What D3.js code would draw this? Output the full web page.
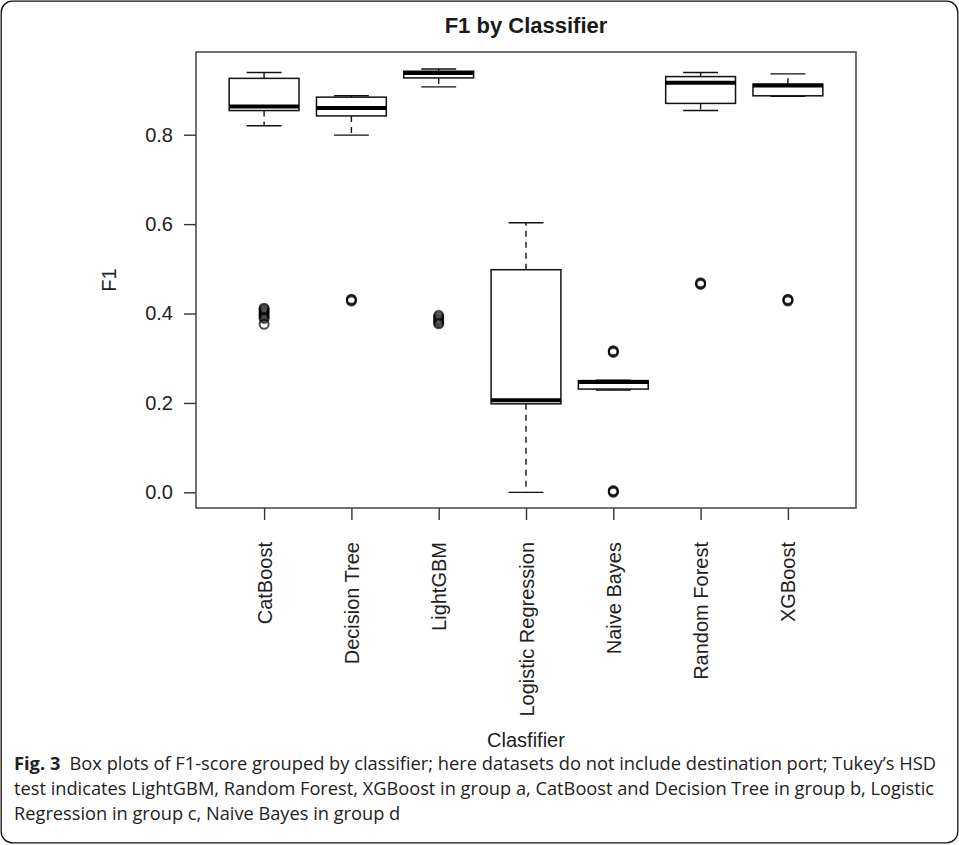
<!DOCTYPE html>
<html>
<head>
<meta charset="utf-8">
<script src="https://cdn.jsdelivr.net/npm/d3@7"></script>
<style>
  html, body { margin: 0; padding: 0; background: #fff; }
  svg { display: block; }
</style>
</head>
<body>
<svg id="fig" width="959" height="845"></svg>
<script>
// Classifiers along the x axis
const classifiers = ["CatBoost", "Decision Tree", "LightGBM", "Logistic Regression",
                     "Naive Bayes", "Random Forest", "XGBoost"];

// Five-number summaries of F1 per classifier
const whiskerLow  = [0.820, 0.799, 0.907, 0.000, 0.229, 0.854, 0.886];
const q1          = [0.854, 0.842, 0.927, 0.198, 0.231, 0.870, 0.887];
const median      = [0.863, 0.860, 0.938, 0.206, 0.247, 0.916, 0.910];
const q3          = [0.926, 0.884, 0.942, 0.498, 0.250, 0.930, 0.913];
const whiskerHigh = [0.939, 0.887, 0.947, 0.603, 0.251, 0.939, 0.936];

// Points beyond the whiskers
const outliers = [
  [0.412, 0.409, 0.405, 0.401, 0.397, 0.393, 0.389, 0.376],
  [0.432, 0.430, 0.428],
  [0.396, 0.392, 0.388, 0.384, 0.380, 0.377],
  [],
  [0.317, 0.315, 0.313, 0.004, 0.002, 0.000],
  [0.469, 0.467, 0.465],
  [0.432, 0.430, 0.428]
];

const yTicks = [0.0, 0.2, 0.4, 0.6, 0.8];
const yDomain = [-0.035, 0.985];

const chartTitle = "F1 by Classifier";
const xTitle = "Clasfifier";
const yTitle = "F1";

const captionLines = [
  { bold: "Fig. 3", text: "\u2002Box plots of F1-score grouped by classifier; here datasets do not include destination port; Tukey\u2019s HSD", width: 922 },
  { bold: "", text: "test indicates LightGBM, Random Forest, XGBoost in group a, CatBoost and Decision Tree in group b, Logistic", width: 920 },
  { bold: "", text: "Regression in group c, Naive Bayes in group d", width: null }
];

// ---- layout ----
const plot = { left: 196, right: 856, top: 52, bottom: 508 };
const svg = d3.select("#fig");
const axisFont = "'Liberation Sans', Arial, Helvetica, sans-serif";
const axisSize = 20;

// outer rounded frame of the figure
svg.append("rect")
  .attr("x", 1.2).attr("y", 1.2)
  .attr("width", 956.6).attr("height", 841.6)
  .attr("rx", 11).attr("ry", 11)
  .attr("fill", "none").attr("stroke", "#111").attr("stroke-width", 1.3);

// scales: groups sit at 1..n, with R-style 4% padding around 0.5..n+0.5
const n = classifiers.length;
const xPad = 0.04 * n;
const x = d3.scaleLinear()
  .domain([0.5 - xPad, n + 0.5 + xPad])
  .range([plot.left, plot.right]);
const y = d3.scaleLinear()
  .domain(yDomain)
  .range([plot.bottom, plot.top]);

const unit = x(2) - x(1);
const boxW = 0.8 * unit;
const stapleW = boxW / 2;

// title
svg.append("text")
  .attr("x", (plot.left + plot.right) / 2).attr("y", 33)
  .attr("text-anchor", "middle")
  .attr("font-family", axisFont).attr("font-weight", "bold")
  .attr("font-size", 22).attr("fill", "#1a1a1a")
  .text(chartTitle);

// y axis
const yAxis = svg.append("g")
  .attr("transform", `translate(${plot.left},0)`)
  .call(d3.axisLeft(y).tickValues(yTicks).tickFormat(d3.format(".1f")).tickSize(12).tickPadding(11));
yAxis.select(".domain").remove();
yAxis.selectAll(".tick line").attr("stroke", "#333").attr("stroke-width", 1.4);
yAxis.selectAll(".tick text")
  .attr("font-family", axisFont).attr("font-size", axisSize).attr("fill", "#222");

// x axis with vertical category labels
const xAxis = svg.append("g")
  .attr("transform", `translate(0,${plot.bottom})`)
  .call(d3.axisBottom(x).tickValues(d3.range(1, n + 1)).tickFormat(i => classifiers[i - 1]).tickSize(12));
xAxis.select(".domain").remove();
xAxis.selectAll(".tick line").attr("stroke", "#333").attr("stroke-width", 1.4);
xAxis.selectAll(".tick text")
  .attr("font-family", axisFont).attr("font-size", axisSize).attr("fill", "#222")
  .attr("transform", "rotate(-90)")
  .attr("text-anchor", "end")
  .attr("x", -34).attr("y", 0).attr("dy", "0.35em");

// axis titles
svg.append("text")
  .attr("transform", `translate(116,${(plot.top + plot.bottom) / 2}) rotate(-90)`)
  .attr("text-anchor", "middle")
  .attr("font-family", axisFont).attr("font-size", axisSize).attr("fill", "#222")
  .text(yTitle);
svg.append("text")
  .attr("x", (plot.left + plot.right) / 2).attr("y", 747)
  .attr("text-anchor", "middle")
  .attr("font-family", axisFont).attr("font-size", axisSize).attr("fill", "#222")
  .text(xTitle);

// plot frame
svg.append("rect")
  .attr("x", plot.left).attr("y", plot.top)
  .attr("width", plot.right - plot.left).attr("height", plot.bottom - plot.top)
  .attr("fill", "none").attr("stroke", "#444").attr("stroke-width", 1.5);

// boxes
const groups = svg.append("g").selectAll("g")
  .data(classifiers.map((name, i) => ({
    name, pos: i + 1,
    lo: whiskerLow[i], q1: q1[i], med: median[i], q3: q3[i], hi: whiskerHigh[i],
    out: outliers[i]
  })))
  .join("g");

// dashed whiskers
groups.append("line")
  .attr("x1", d => x(d.pos)).attr("x2", d => x(d.pos))
  .attr("y1", d => y(d.q3)).attr("y2", d => y(d.hi))
  .attr("stroke", "#111").attr("stroke-width", 1.4).attr("stroke-dasharray", "6,5");
groups.append("line")
  .attr("x1", d => x(d.pos)).attr("x2", d => x(d.pos))
  .attr("y1", d => y(d.q1)).attr("y2", d => y(d.lo))
  .attr("stroke", "#111").attr("stroke-width", 1.4).attr("stroke-dasharray", "6,5");

// staples
["lo", "hi"].forEach(k => {
  groups.append("line")
    .attr("x1", d => x(d.pos) - stapleW / 2).attr("x2", d => x(d.pos) + stapleW / 2)
    .attr("y1", d => y(d[k])).attr("y2", d => y(d[k]))
    .attr("stroke", "#111").attr("stroke-width", 1.4);
});

// box bodies
groups.append("rect")
  .attr("x", d => x(d.pos) - boxW / 2)
  .attr("y", d => y(d.q3))
  .attr("width", boxW)
  .attr("height", d => y(d.q1) - y(d.q3))
  .attr("fill", "#fff").attr("stroke", "#111").attr("stroke-width", 1.5);

// medians
groups.append("line")
  .attr("x1", d => x(d.pos) - boxW / 2).attr("x2", d => x(d.pos) + boxW / 2)
  .attr("y1", d => y(d.med)).attr("y2", d => y(d.med))
  .attr("stroke", "#000").attr("stroke-width", 4);

// outliers as open circles
groups.selectAll("circle")
  .data(d => d.out.map(v => ({ pos: d.pos, v })))
  .join("circle")
  .attr("cx", d => x(d.pos)).attr("cy", d => y(d.v))
  .attr("r", 4.5)
  .attr("fill", "none").attr("stroke", "#000")
  .attr("stroke-width", 2).attr("stroke-opacity", 0.7);

// caption
const capFont = "'Open Sans', 'Noto Sans', sans-serif";
const cap = svg.append("g");
const capNodes = captionLines.map((line, i) => {
  const t = cap.append("text")
    .attr("x", 14).attr("y", 770 + i * 25)
    .attr("font-family", capFont).attr("font-size", 18.5).attr("fill", "#222");
  if (line.bold) t.append("tspan").attr("font-weight", "bold").text(line.bold);
  t.append("tspan").text(line.text);
  return t;
});
// condense the caption to its column width
let ratio = 1;
capNodes.forEach((t, i) => {
  const w = captionLines[i].width;
  if (w) {
    ratio = w / t.node().getComputedTextLength();
    t.attr("textLength", w).attr("lengthAdjust", "spacingAndGlyphs");
  }
});
capNodes.forEach((t, i) => {
  if (!captionLines[i].width) {
    const w = t.node().getComputedTextLength() * ratio;
    t.attr("textLength", w).attr("lengthAdjust", "spacingAndGlyphs");
  }
});
</script>
</body>
</html>
